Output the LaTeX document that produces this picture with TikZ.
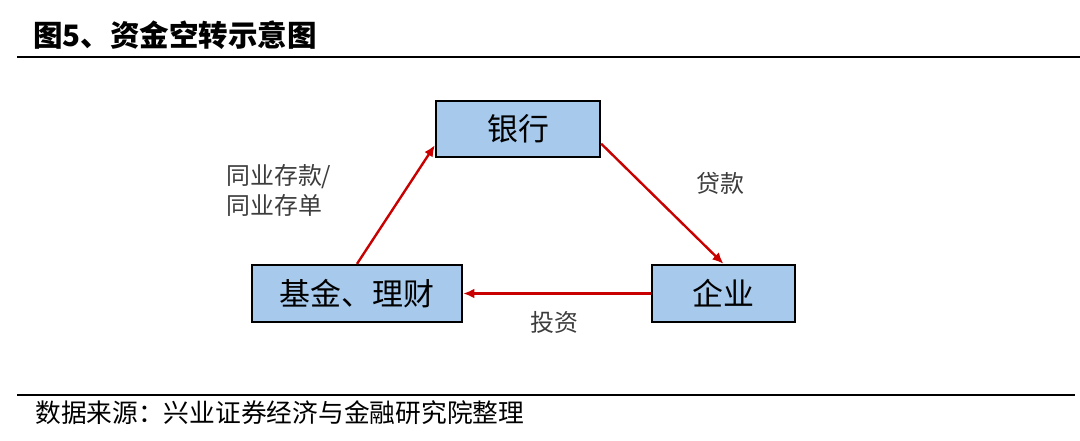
\documentclass[tikz,border=0pt]{standalone}
\usepackage{fontspec}
\usepackage{tikz}
\usetikzlibrary{arrows.meta}
\setmainfont{Liberation Sans}
\newfontfamily\cjk{Noto Sans CJK SC}
\tikzstyle{pixelGrid} = [x = 0.025cm, y = -0.025cm]
\definecolor{boxColor}{RGB}{166,201,236}
\definecolor{flowColor}{RGB}{200,0,0}
\definecolor{labelColor}{RGB}{60,60,60}
\tikzstyle{boxStyle} = [draw=black, fill=boxColor, line width=1.6pt, inner sep=0pt, font=\cjk\fontsize{22}{26}\selectfont]
\tikzstyle{flowLine} = [draw=flowColor, line width=1.7pt, -{Latex[length=8pt, width=7pt]}]
\tikzstyle{flowText} = [text=labelColor, inner sep=0pt, font=\cjk\fontsize{17}{21.3}\selectfont]
\tikzstyle{ruleLine} = [draw=black, line width=1.3pt]
\newcommand{\flowBox}[5]{\node [boxStyle, minimum width=#3 cm, minimum height=#4 cm] (#1) at #2 {#5};}

\begin{document}
\begin{tikzpicture}[pixelGrid]
      \useasboundingbox (0,0) rectangle (1080,441);
      % title and rules
      \node [anchor=west, inner sep=0pt, font=\cjk\bfseries\fontsize{21}{25}\selectfont] (title) at (33,35) {图5、资金空转示意图};
      \draw [ruleLine] (17,57) -- (1080,57);
      \draw [ruleLine] (17,395) -- (1075,395);
      \node [anchor=west, inner sep=0pt, font=\cjk\fontsize{18.3}{22}\selectfont] (source) at (35,413) {数据来源：兴业证券经济与金融研究院整理};

      % boxes
      \flowBox{bank}{(518,129)}{4.1}{1.4}{银行}
      \flowBox{fund}{(357,293.5)}{5.25}{1.425}{基金、理财}
      \flowBox{firm}{(723.5,293.5)}{3.575}{1.425}{企业}

      % flows
      \draw [flowLine] (fund.north) -- (bank.191);
      \draw [flowLine] (bank.350) -- (firm.north);
      \draw [flowLine] (firm.west) -- (fund.east);

      \node [flowText, anchor=west, align=left] (depositText) at (226,190) {同业存款/\\同业存单};
      \node [flowText] (loanText) at (720,183) {贷款};
      \node [flowText] (investText) at (554,322) {投资};
    \end{tikzpicture}
\end{document}
